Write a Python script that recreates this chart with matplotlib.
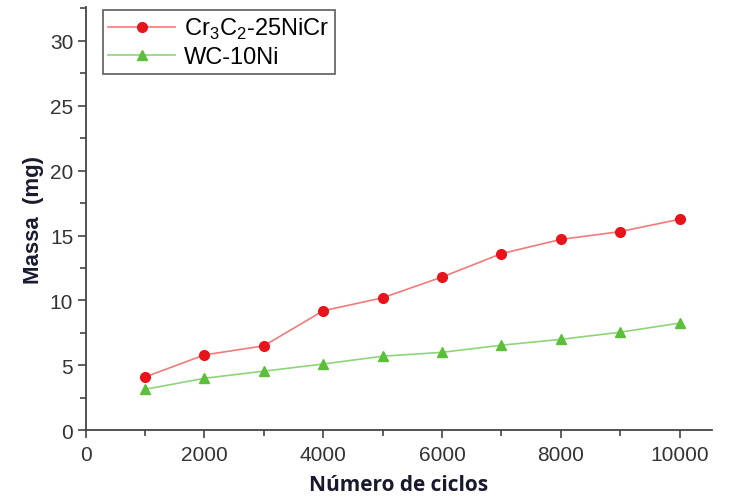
import matplotlib
matplotlib.use('Agg')
import matplotlib.pyplot as plt
from matplotlib.ticker import MultipleLocator

# data
ciclos = [1000, 2000, 3000, 4000, 5000, 6000, 7000, 8000, 9000, 10000]
massa_cr3c2 = [4.1, 5.8, 6.5, 9.2, 10.2, 11.8, 13.6, 14.7, 15.3, 16.25]
massa_wc = [3.15, 4.0, 4.55, 5.1, 5.7, 6.0, 6.55, 7.0, 7.55, 8.25]
labels = ['Cr$_3$C$_2$-25NiCr', 'WC-10Ni']

plt.rcParams['font.family'] = ['Liberation Sans', 'DejaVu Sans']
plt.rcParams['mathtext.fontset'] = 'custom'
plt.rcParams['mathtext.rm'] = 'Liberation Sans'

fig = plt.figure(figsize=(7.32, 5.02), dpi=100)
ax = fig.add_axes([0.117, 0.141, 0.856, 0.843])

ax.plot(ciclos, massa_cr3c2, color='#f27a7a', lw=1.2, marker='o', ms=7,
        mfc='#e8141c', mec='#e8141c', label=labels[0])
ax.plot(ciclos, massa_wc, color='#8fd47a', lw=1.2, marker='^', ms=7,
        mfc='#5cbf3a', mec='#5cbf3a', label=labels[1])

ax.set_xlim(0, 10550)
ax.set_ylim(0, 32.6)
ax.xaxis.set_major_locator(MultipleLocator(2000))
ax.xaxis.set_minor_locator(MultipleLocator(1000))
ax.yaxis.set_major_locator(MultipleLocator(5))
ax.yaxis.set_minor_locator(MultipleLocator(2.5))

for s in ['top', 'right']:
    ax.spines[s].set_visible(False)
for s in ['left', 'bottom']:
    ax.spines[s].set_color('#444444')
    ax.spines[s].set_linewidth(1.3)

ax.tick_params(which='major', direction='out', length=6, width=1.2,
               colors='#444444', labelsize=15, labelcolor='#333333', pad=5)
ax.tick_params(axis='y', which='major', pad=3)
ax.tick_params(which='minor', direction='out', length=4, width=1.2, colors='#444444')

ax.set_xlabel('Número de ciclos', fontsize=15, fontweight='bold',
              family=['Open Sans', 'DejaVu Sans'], color='#1a1a2e', labelpad=7)
ax.set_ylabel('Massa  (mg)', fontsize=16, fontweight='bold', color='#1a1a2e', labelpad=4)

leg = ax.legend(loc='upper left', bbox_to_anchor=(0.027, 0.993), borderaxespad=0,
                fontsize=17, frameon=True, fancybox=False, handlelength=2.8,
                borderpad=0.25, labelspacing=0.2, handletextpad=0.4)
leg.get_frame().set_edgecolor('#333333')
leg.get_frame().set_linewidth(1.2)

fig.savefig('out.png', dpi=100)
